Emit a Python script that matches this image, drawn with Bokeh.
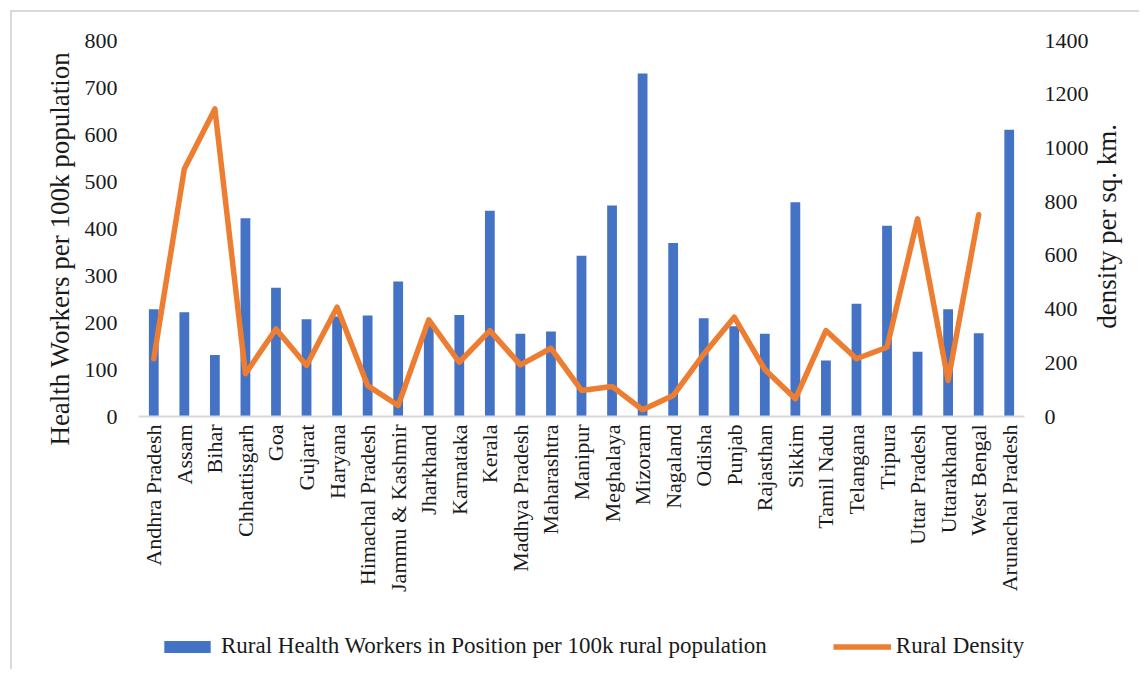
import math
from bokeh.plotting import figure
from bokeh.layouts import column
from bokeh.models import (Range1d, LinearAxis, FixedTicker, Legend, LegendItem,
                          ColumnDataSource, FactorRange)
from bokeh.embed import file_html
from bokeh.resources import INLINE

states = ["Andhra Pradesh", "Assam", "Bihar", "Chhattisgarh", "Goa", "Gujarat",
          "Haryana", "Himachal Pradesh", "Jammu & Kashmir", "Jharkhand", "Karnataka",
          "Kerala", "Madhya Pradesh", "Maharashtra", "Manipur", "Meghalaya", "Mizoram",
          "Nagaland", "Odisha", "Punjab", "Rajasthan", "Sikkim", "Tamil Nadu",
          "Telangana", "Tripura", "Uttar Pradesh", "Uttarakhand", "West Bengal",
          "Arunachal Pradesh"]
health_workers = [228, 222, 131, 422, 274, 207, 213, 215, 287, 195, 216, 438, 176,
                  181, 342, 449, 730, 369, 209, 192, 176, 456, 119, 240, 406, 138,
                  228, 177, 610]
rural_density = [215, 922, 1145, 159, 326, 190, 407, 115, 41, 360, 202, 320, 192,
                 254, 97, 112, 25, 78, 232, 370, 175, 66, 320, 215, 258, 736, 134,
                 751, float("nan")]
left_ticks = [0, 100, 200, 300, 400, 500, 600, 700, 800]
right_ticks = [0, 200, 400, 600, 800, 1000, 1200, 1400]
left_title = "Health Workers per 100k population"
right_title = "density per sq. km."
bar_label = "Rural Health Workers in Position per 100k rural population"
line_label = "Rural Density"

FONT = "Liberation Serif"
TXT = "#1a1a1a"
BLUE = "#4472C4"
ORANGE = "#ED7D31"
NB = "\u00a0"


def plain_axis(ax):
    ax.axis_line_color = None
    ax.major_tick_line_color = None
    ax.minor_tick_line_color = None
    ax.major_tick_out = 0
    ax.major_tick_in = 0
    ax.major_label_text_font = FONT
    ax.major_label_text_font_size = "22px"
    ax.major_label_text_color = TXT
    ax.axis_label_text_font = FONT
    ax.axis_label_text_font_size = "27px"
    ax.axis_label_text_font_style = "normal"
    ax.axis_label_text_color = TXT


src = ColumnDataSource(dict(x=states, hw=health_workers, dens=rural_density))

p = figure(width=1139, height=630, output_backend="svg", toolbar_location=None,
           x_range=FactorRange(*states), y_range=Range1d(0, 800),
           min_border_left=138, min_border_right=114, min_border_top=40,
           min_border_bottom=214)
p.extra_y_ranges = {"dens": Range1d(0, 1400)}
p.outline_line_color = None
p.xgrid.grid_line_color = None
p.ygrid.grid_line_color = None
p.border_fill_alpha = 0

p.vbar(x="x", top="hw", width=0.32, source=src, fill_color=BLUE, line_color=None)
p.line(x="x", y="dens", source=src, y_range_name="dens", line_color=ORANGE,
       line_width=5.5, line_join="round", line_cap="round")

# x axis
xa = p.xaxis[0]
plain_axis(xa)
xa.axis_line_color = "#D9D9D9"
xa.axis_line_width = 2
xa.major_label_orientation = math.pi / 2
xa.major_label_standoff = 8

# left axis
ya = p.yaxis[0]
plain_axis(ya)
ya.ticker = FixedTicker(ticks=left_ticks)
ya.major_label_standoff = 21
ya.axis_label = left_title + NB * 6
ya.axis_label_standoff = 7

# right axis, title reading bottom-to-top
ra = LinearAxis(y_range_name="dens", ticker=FixedTicker(ticks=right_ticks))
plain_axis(ra)
ra.major_label_standoff = 20
ra.axis_label = NB * 13 + right_title
ra.axis_label_standoff = 15
ra.axis_label_orientation = math.pi / 2
ra.axis_label_align = "start"
p.add_layout(ra, "right")

# legend strip below the chart (legend-only swatches)
lf = figure(width=1139, height=39, output_backend="svg", toolbar_location=None,
            x_range=Range1d(0, 1), y_range=Range1d(0, 1), min_border=0)
lf.axis.visible = False
lf.grid.visible = False
lf.outline_line_color = None
lf.border_fill_alpha = 0
lf.background_fill_alpha = 0
rb = lf.vbar(x=[0], top=[0], width=0, fill_color=BLUE, line_color=None)
rl = lf.line(x=[0], y=[0], line_color=ORANGE, line_width=5.5)
legend = Legend(items=[LegendItem(label=bar_label, renderers=[rb]),
                       LegendItem(label=line_label, renderers=[rl])],
                location=(20, 10), orientation="horizontal", glyph_width=58,
                glyph_height=15, label_standoff=5, spacing=66, padding=0, margin=0,
                border_line_color=None, background_fill_alpha=0,
                label_text_font=FONT, label_text_font_size="23px",
                label_text_color=TXT)
lf.add_layout(legend)

layout = column(p, lf, spacing=0)
layout.styles = {
    "background": ("linear-gradient(#D9D9D9, #D9D9D9) 10px 10px / 2px 100% no-repeat, "
                   "linear-gradient(#D9D9D9, #D9D9D9) 10px 10px / 100% 2px no-repeat, "
                   "white"),
}
open("out.html", "w").write(file_html(layout, INLINE))
